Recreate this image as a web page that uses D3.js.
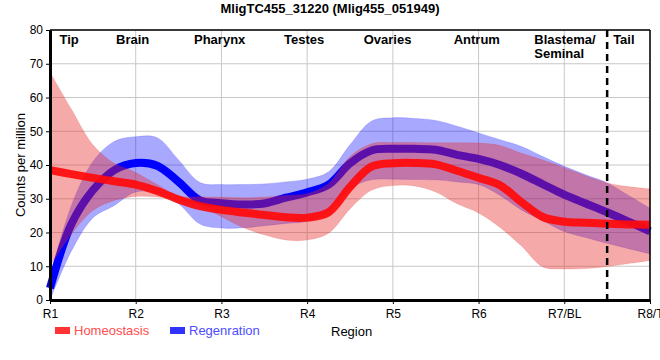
<!DOCTYPE html>
<html><head><meta charset="utf-8">
<script src="https://cdn.jsdelivr.net/npm/d3@7"></script>
<style>body{margin:0;background:#fff}svg{display:block;font-family:"Liberation Sans",Arial,sans-serif}</style>
</head><body><svg id="c" width="660" height="360"></svg>
<script>
const title = "MligTC455_31220 (Mlig455_051949)";
const tickLabels = ["R1","R2","R3","R4","R5","R6","R7/BL","R8/T"];
const regionNames = [["Tip"],["Brain"],["Pharynx"],["Testes"],["Ovaries"],["Antrum"],["Blastema/","Seminal"],["Tail"]];
const regionPos = [0.11,0.77,1.68,2.73,3.66,4.71,5.65,6.57];
const positions = [0,0.25,0.5,0.75,1,1.25,1.5,1.75,2,2.25,2.5,2.75,3,3.25,3.5,3.75,4,4.25,4.5,4.75,5,5.25,5.5,5.75,6,6.25,6.5,6.75,7];
const homeoMean  = [38.5,37.3,36.2,35.2,34.2,32.3,29.8,27.8,26.7,25.9,25.2,24.5,24.4,26.0,33.5,39.5,40.5,40.6,40.2,38.3,36.2,34.0,29.0,24.6,23.2,22.9,22.6,22.4,22.3];
const homeoUpper = [67.5,56.5,46.0,40.5,37.8,34.2,30.8,30.6,30.5,30.3,30.5,31.0,31.5,34.5,42.5,46.3,46.7,46.7,46.6,46.6,46.5,45.8,43.5,41.5,39.2,36.8,34.7,33.6,32.9];
const homeoLower = [10.0,19.5,26.5,29.5,30.7,30.5,29.7,27.7,24.7,21.5,19.3,17.8,17.8,19.8,27.0,32.5,33.9,33.8,32.0,28.5,25.8,21.5,16.0,9.8,9.2,9.3,9.9,10.8,11.7];
const regenMean  = [3.5,22.5,32.5,38.5,40.6,39.8,35.0,29.5,28.7,28.3,28.6,30.3,31.9,34.2,40.5,44.3,44.8,44.8,44.5,43.0,41.8,40.0,37.4,34.3,31.2,28.6,26.0,23.2,20.3];
const regenUpper = [7.0,28.0,41.0,47.0,48.4,48.1,41.5,34.8,34.2,34.2,34.4,35.0,35.8,38.0,46.0,53.0,54.0,53.8,53.2,51.5,49.5,47.5,45.5,42.5,39.6,37.1,34.7,31.0,27.2];
const regenLower = [0.0,14.5,24.3,28.0,32.0,31.7,28.5,22.5,21.3,21.4,22.0,22.7,23.3,26.0,33.0,35.6,35.8,35.7,35.6,35.0,34.2,31.0,26.7,23.5,20.3,18.5,16.8,15.2,13.7];
const yTicks = [0,10,20,30,40,50,60,70,80];
const dividerPos = 6.5;

const svg = d3.select("#c");
const L=50,R=650,T=30,B=300;
const x = d3.scaleLinear().domain([0,7]).range([L,R]);
const y = d3.scaleLinear().domain([0,80]).range([B,T]);

// grid
svg.append("g").selectAll("line").data(d3.range(tickLabels.length)).join("line")
  .attr("x1",d=>x(d)).attr("x2",d=>x(d)).attr("y1",T).attr("y2",B)
  .attr("stroke","#c8c8c8").attr("stroke-width",1);
svg.append("g").selectAll("line").data(yTicks).join("line")
  .attr("x1",L).attr("x2",R).attr("y1",d=>y(d)).attr("y2",d=>y(d))
  .attr("stroke","#c8c8c8").attr("stroke-width",1);

const curve = d3.curveCatmullRom.alpha(0.5);
const area = (up,lo)=>d3.area().x((d,i)=>x(positions[i])).y0((d,i)=>y(lo[i])).y1((d,i)=>y(up[i])).curve(curve)(positions);
const line = (m)=>d3.line().x((d,i)=>x(positions[i])).y((d,i)=>y(m[i])).curve(curve)(positions);

const g = svg.append("g");
g.append("path").attr("d",area(regenUpper,regenLower)).attr("fill","rgb(0,0,255)").attr("fill-opacity",0.34).attr("stroke","rgb(0,0,255)").attr("stroke-opacity",0.15);
g.append("path").attr("d",line(regenMean)).attr("fill","none").attr("stroke","#0000ff").attr("stroke-width",8);
g.append("path").attr("d",area(homeoUpper,homeoLower)).attr("fill","rgb(230,40,40)").attr("fill-opacity",0.4).attr("stroke","rgb(230,40,40)").attr("stroke-opacity",0.15);
g.append("path").attr("d",line(homeoMean)).attr("fill","none").attr("stroke","#ff0a0a").attr("stroke-opacity",0.92).attr("stroke-width",8);

// divider
svg.append("line").attr("x1",x(dividerPos)).attr("x2",x(dividerPos)).attr("y1",T).attr("y2",B)
  .attr("stroke","#000").attr("stroke-width",2.5).attr("stroke-dasharray","7,5");

// frame
svg.append("line").attr("x1",L).attr("x2",R).attr("y1",T).attr("y2",T).attr("stroke","#000").attr("stroke-width",1.5);
svg.append("line").attr("x1",R).attr("x2",R).attr("y1",T).attr("y2",B).attr("stroke","#000").attr("stroke-width",1.5);

// axes
const ya = svg.append("g").attr("transform",`translate(${L},0)`).call(d3.axisLeft(y).tickValues(yTicks).tickSize(4).tickSizeOuter(0));
ya.select(".domain").attr("stroke-width",3);
ya.selectAll("text").attr("font-size",12).attr("fill","#000").attr("font-family","Liberation Sans, Arial");
const xa = svg.append("g").attr("transform",`translate(0,${B})`).call(d3.axisBottom(x).tickValues(d3.range(tickLabels.length)).tickFormat(i=>tickLabels[i]).tickSize(4).tickSizeOuter(0));
xa.select(".domain").attr("stroke-width",3);
xa.selectAll("text").attr("font-size",12).attr("fill","#000").attr("font-family","Liberation Sans, Arial").attr("dy","0.9em");

// region labels
regionNames.forEach((lines,i)=>{
  const t = svg.append("text").attr("x",x(regionPos[i])).attr("y",44).attr("font-size",13).attr("font-weight","bold").attr("fill","#000");
  lines.forEach((s,j)=>t.append("tspan").attr("x",x(regionPos[i])).attr("dy",j?14:0).text(s));
});

// title
svg.append("text").attr("x",330).attr("y",13).attr("text-anchor","middle").attr("font-size",13).attr("font-weight","bold").text(title);
// y label
svg.append("text").attr("transform","translate(25,165) rotate(-90)").attr("text-anchor","middle").attr("font-size",13).text("Counts per million");
// x label
svg.append("text").attr("x",331).attr("y",336).attr("font-size",13).text("Region");

// legend
const legend = [{name:"Homeostasis",color:"#ff3333",text:"#ff4d4d",x:55},{name:"Regenration",color:"#3333ff",text:"#4d4dff",x:170}];
legend.forEach(l=>{
  svg.append("rect").attr("x",l.x).attr("y",327).attr("width",15).attr("height",7).attr("fill",l.color);
  svg.append("text").attr("x",l.x+19).attr("y",335).attr("font-size",13).attr("fill",l.text).text(l.name);
});
</script></body></html>
